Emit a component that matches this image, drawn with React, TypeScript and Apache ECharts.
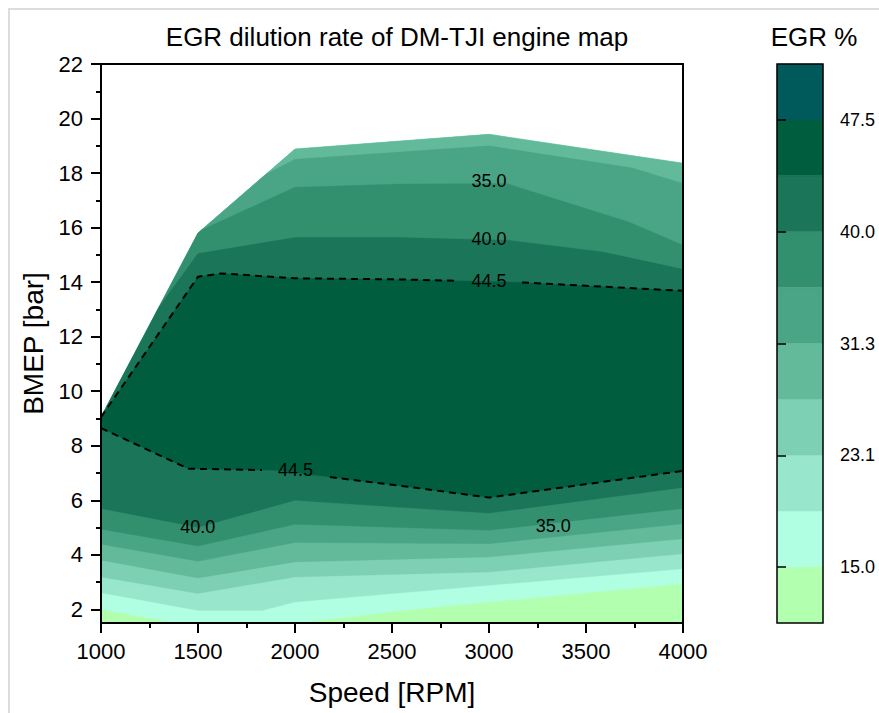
import { useEffect, useRef } from 'react';
import * as echarts from 'echarts';

const FONT = '"Liberation Sans", Arial, Helvetica, sans-serif';

// Band colours, lowest EGR band first (same order as the colour bar, bottom to top)
const bandColors = ['#b3ffb0', '#b0ffe2', '#98e6cc', '#7dd0b4', '#62ba9a', '#4aa586', '#33906f', '#1b7558', '#005e3e', '#00595a'];

// Colour bar tick labels (at band boundaries 1,3,5,7,9)
const colorbarTickIndex = [1, 3, 5, 7, 9];
const colorbarTickLabels = ['15.0', '23.1', '31.3', '40.0', '47.5'];

// Y axis ticks
const yMajorTicks = [2, 4, 6, 8, 10, 12, 14, 16, 18, 20, 22];
const yMinorTicks = [3, 5, 7, 9, 11, 13, 15, 17, 19, 21];

// Map outline (full-load line) [speed, BMEP]
const mapEnvelope = [[1000, 9.05], [1500, 15.8], [2000, 18.88], [3000, 19.42], [4000, 18.36]];
const mapFloor = [[1000, 1.5], [4000, 1.5]];

// Lower contour boundaries (band k starts above lowerK)
const lower1 = [[1000, 2.0], [1390, 1.5], [2000, 1.5], [2590, 1.99], [4000, 2.94]];
const lower2 = [[1000, 2.61], [1500, 1.96], [1830, 1.96], [2000, 2.27], [3000, 2.88], [4000, 3.49]];
const lower3 = [[1000, 3.19], [1500, 2.58], [2000, 3.19], [3000, 3.37], [4000, 4.04]];
const lower4 = [[1000, 3.8], [1500, 3.15], [2000, 3.74], [3000, 3.92], [4000, 4.59]];
const lower5 = [[1000, 4.39], [1500, 3.76], [2000, 4.45], [3000, 4.41], [4000, 5.14]];
const lower6 = [[1000, 4.94], [1500, 4.32], [2000, 5.12], [3000, 4.9], [4000, 5.7]];
const lower7 = [[1000, 5.7], [1500, 5.01], [2000, 6.0], [3000, 5.53], [4000, 6.47]];
const lower8 = [[1000, 8.65], [1450, 7.16], [1830, 7.11], [1900, 7.1], [2180, 6.85], [2590, 6.49], [3000, 6.1], [4000, 7.08]];

// Upper contour boundaries near the full-load line
const upper5 = [[1850, 17.96], [2000, 18.51], [3000, 19.0], [3740, 18.19], [4000, 17.62]];
const upper6 = [[1520, 15.92], [2000, 17.48], [2540, 17.6], [3090, 17.62], [3720, 16.21], [4000, 15.36]];
const upper7 = [[1300, 13.1], [1500, 15.05], [2000, 15.64], [2540, 15.64], [3090, 15.54], [3585, 15.11], [4000, 14.47]];
const upper8 = [[1000, 9.05], [1500, 14.2], [1620, 14.32], [2000, 14.14], [2540, 14.1], [2830, 14.05], [3170, 13.99], [4000, 13.68]];

// Gaps in the dashed 44.5 line where its labels sit
const lowerDashGap = [1830, 2180];
const upperDashGap = [2830, 3170];

// Inline contour labels
const contourLabelText = ['35.0', '40.0', '44.5', '44.5', '40.0', '35.0'];
const contourLabelSpeed = [3000, 3000, 3000, 2003, 1499, 3331];
const contourLabelBmep = [17.71, 15.58, 14.04, 7.1, 5.01, 5.05];

const lowerLines = [mapFloor, lower1, lower2, lower3, lower4, lower5, lower6, lower7, lower8];
const upperLines: (number[][] | null)[] = [null, null, null, null, null, upper5, upper6, upper7, upper8];

function upperPath(u: number[][] | null): number[][] {
  if (!u) return [...mapEnvelope].reverse();
  const start = u[0][0];
  const envLeft = mapEnvelope.filter((p) => p[0] < start).reverse();
  return [...[...u].reverse(), ...envLeft];
}

const regions = lowerLines.map((l, k) => [...l, ...upperPath(upperLines[k])]);

function splitByGap(points: number[][], gap: number[]): number[][][] {
  const a = points.filter((p) => p[0] <= gap[0]);
  const b = points.filter((p) => p[0] >= gap[1]);
  return [a, b];
}

export default function App() {
  const ref = useRef<HTMLDivElement>(null);

  useEffect(() => {
    if (!ref.current) return;
    const chart = echarts.init(ref.current, null, { renderer: 'svg' });

    const dashedSegments = [...splitByGap(lower8, lowerDashGap), ...splitByGap(upper8, upperDashGap)];

    const axisLineStyle = { color: '#000', width: 2 };

    const option: any = {
      animation: false,
      backgroundColor: 'transparent',
      textStyle: { fontFamily: FONT },
      title: [
        {
          text: 'EGR dilution rate of DM-TJI engine map',
          left: 392,
          top: 19,
          textAlign: 'center',
          textStyle: { fontSize: 26, fontWeight: 'normal', color: '#000', fontFamily: FONT },
        },
        {
          text: 'EGR %',
          left: 809,
          top: 19,
          textAlign: 'center',
          textStyle: { fontSize: 26, fontWeight: 'normal', color: '#000', fontFamily: FONT },
        },
      ],
      grid: [
        { left: 101, top: 64, width: 582, height: 559 },
        { left: 777, top: 64, width: 46, height: 559 },
      ],
      xAxis: [
        {
          gridIndex: 0,
          type: 'value',
          min: 1000,
          max: 4000,
          interval: 500,
          position: 'bottom',
          z: 10,
          axisLine: { show: true, onZero: false, lineStyle: axisLineStyle },
          axisTick: { show: true, inside: false, length: 10, lineStyle: axisLineStyle },
          minorTick: { show: true, splitNumber: 2, length: 5, lineStyle: axisLineStyle },
          axisLabel: { fontSize: 22, color: '#000', margin: 17, fontFamily: FONT, formatter: (v: number) => String(v) },
          splitLine: { show: false },
          name: 'Speed [RPM]',
          nameLocation: 'middle',
          nameGap: 55,
          nameTextStyle: { fontSize: 28, color: '#000', fontFamily: FONT },
        },
        {
          gridIndex: 0,
          type: 'value',
          min: 1000,
          max: 4000,
          position: 'top',
          z: 10,
          axisLine: { show: true, onZero: false, lineStyle: axisLineStyle },
          axisTick: { show: false },
          axisLabel: { show: false },
          splitLine: { show: false },
        },
        {
          gridIndex: 1,
          type: 'value',
          min: 0,
          max: 1,
          show: false,
        },
      ],
      yAxis: [
        {
          gridIndex: 0,
          type: 'value',
          min: 1.5,
          max: 22,
          position: 'left',
          z: 10,
          axisLine: { show: true, onZero: false, lineStyle: axisLineStyle },
          axisTick: { show: true, inside: false, length: 10, lineStyle: axisLineStyle, customValues: yMajorTicks },
          axisLabel: { fontSize: 22, color: '#000', margin: 18, fontFamily: FONT, customValues: yMajorTicks, formatter: (v: number) => String(v) },
          splitLine: { show: false },
          name: 'BMEP [bar]',
          nameLocation: 'middle',
          nameGap: 54,
          nameRotate: 90,
          nameTextStyle: { fontSize: 28, color: '#000', fontFamily: FONT },
        },
        {
          gridIndex: 0,
          type: 'value',
          min: 1.5,
          max: 22,
          position: 'right',
          z: 10,
          axisLine: { show: true, onZero: false, lineStyle: axisLineStyle },
          axisTick: { show: false },
          axisLabel: { show: false },
          splitLine: { show: false },
        },
        {
          gridIndex: 0,
          type: 'value',
          min: 1.5,
          max: 22,
          position: 'left',
          z: 10,
          axisLine: { show: false },
          axisTick: { show: true, inside: false, length: 5, lineStyle: axisLineStyle, customValues: yMinorTicks },
          axisLabel: { show: false },
          splitLine: { show: false },
        },
        {
          gridIndex: 1,
          type: 'value',
          min: 0,
          max: 10,
          position: 'right',
          z: 10,
          axisLine: { show: false },
          axisTick: { show: true, inside: false, length: 9, lineStyle: { color: '#000', width: 1.5 }, customValues: colorbarTickIndex },
          axisLabel: {
            fontSize: 18,
            color: '#000',
            margin: 17,
            fontFamily: FONT,
            customValues: colorbarTickIndex,
            formatter: (v: number) => {
              const i = colorbarTickIndex.indexOf(Math.round(v));
              return i >= 0 ? colorbarTickLabels[i] : '';
            },
          },
          splitLine: { show: false },
        },
      ],
      series: [
        {
          type: 'custom',
          coordinateSystem: 'cartesian2d',
          xAxisIndex: 0,
          yAxisIndex: 0,
          silent: true,
          z: 1,
          data: regions.map((_, k) => [k]),
          renderItem: (_params: any, api: any) => {
            const k = api.value(0) as number;
            return {
              type: 'polygon',
              shape: { points: regions[k].map((p) => api.coord(p)) },
              style: { fill: bandColors[k], stroke: bandColors[k], lineWidth: 0.3 },
            };
          },
        },
        ...dashedSegments.map((seg) => ({
          type: 'line',
          xAxisIndex: 0,
          yAxisIndex: 0,
          data: seg,
          showSymbol: false,
          symbol: 'none',
          silent: true,
          z: 3,
          lineStyle: { color: '#000', width: 2, type: [7, 5] },
        })),
        {
          type: 'custom',
          coordinateSystem: 'cartesian2d',
          xAxisIndex: 0,
          yAxisIndex: 0,
          silent: true,
          z: 4,
          data: contourLabelText.map((_, i) => [contourLabelSpeed[i], contourLabelBmep[i]]),
          renderItem: (params: any, api: any) => {
            const i = params.dataIndex;
            const pt = api.coord([contourLabelSpeed[i], contourLabelBmep[i]]);
            return {
              type: 'text',
              x: pt[0],
              y: pt[1],
              style: {
                text: contourLabelText[i],
                fill: '#000',
                fontSize: 18,
                fontFamily: FONT,
                align: 'center',
                verticalAlign: 'middle',
              },
            };
          },
        },
        {
          type: 'custom',
          coordinateSystem: 'cartesian2d',
          xAxisIndex: 2,
          yAxisIndex: 3,
          silent: true,
          z: 1,
          data: bandColors.map((_, i) => [0, i]),
          renderItem: (params: any, api: any) => {
            const i = params.dataIndex;
            const p0 = api.coord([0, i + 1]);
            const p1 = api.coord([1, i]);
            return {
              type: 'rect',
              shape: { x: p0[0], y: p0[1], width: p1[0] - p0[0], height: p1[1] - p0[1] },
              style: { fill: bandColors[i], stroke: bandColors[i], lineWidth: 0.3 },
            };
          },
        },
        {
          type: 'custom',
          coordinateSystem: 'cartesian2d',
          xAxisIndex: 2,
          yAxisIndex: 3,
          silent: true,
          z: 5,
          data: [[0, 0]],
          renderItem: (params: any) => {
            const cs = params.coordSys;
            return {
              type: 'rect',
              shape: { x: cs.x, y: cs.y, width: cs.width, height: cs.height },
              style: { fill: 'none', stroke: '#000', lineWidth: 1.5 },
            };
          },
        },
      ],
    };

    chart.setOption(option);
    return () => chart.dispose();
  }, []);

  return (
    <div style={{ position: 'absolute', left: 0, top: 0, width: 879, height: 713, overflow: 'hidden', background: '#fff' }}>
      <div
        style={{
          position: 'absolute',
          left: 8,
          top: 8,
          width: 871,
          height: 705,
          boxSizing: 'border-box',
          borderLeft: '2px solid #dcdcdc',
          borderTop: '2px solid #dcdcdc',
        }}
      />
      <div ref={ref} style={{ position: 'absolute', left: 0, top: 0, width: 879, height: 713 }} />
    </div>
  );
}
